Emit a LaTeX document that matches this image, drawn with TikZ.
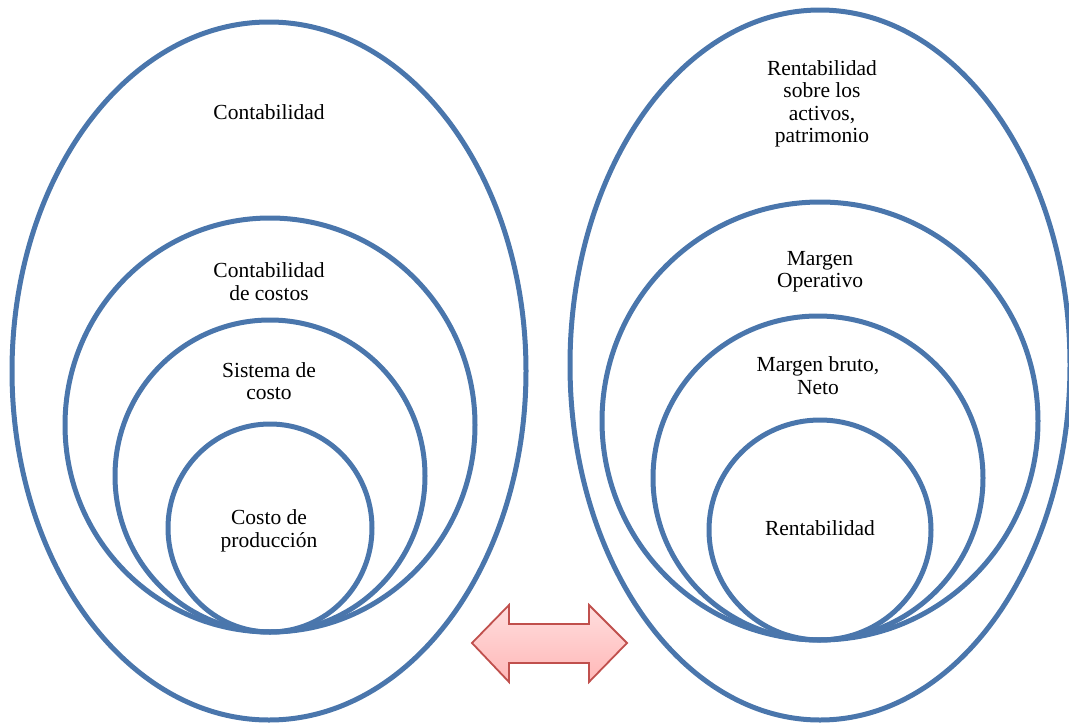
\documentclass[tikz,border=0pt]{standalone}
\usepackage{fontspec}
\setmainfont{Liberation Serif}
\usetikzlibrary{positioning}

\definecolor{ringblue}{RGB}{74,118,172}
\definecolor{arrowred}{RGB}{192,80,77}
\definecolor{pinktop}{RGB}{255,222,222}
\definecolor{pinkbot}{RGB}{255,183,183}

\tikzset{
  ring/.style={line width=5pt, color=ringblue},
  lbl/.style={align=center, font=\fontsize{21.5}{22.5}\selectfont, inner sep=0pt},
  dblarrow/.style={line width=1.8pt, draw=arrowred, top color=pinktop, bottom color=pinkbot, line join=miter}
}

\begin{document}
\begin{tikzpicture}[x=1pt,y=-1pt]
  \useasboundingbox (0,0) rectangle (1069,723);

  % left group
  \draw [ring] (269,371) ellipse [x radius=257pt, y radius=349pt];
  \draw [ring] (270,425) ellipse [x radius=205pt, y radius=207pt];
  \draw [ring] (270,476) ellipse [x radius=155pt, y radius=156pt];
  \draw [ring] (270,528) ellipse [x radius=102pt, y radius=104pt];

  % right group
  \draw [ring] (820,365) ellipse [x radius=250pt, y radius=355pt];
  \draw [ring] (820,421) ellipse [x radius=218pt, y radius=219pt];
  \draw [ring] (818,478) ellipse [x radius=165pt, y radius=162pt];
  \draw [ring] (820,530) ellipse [x radius=111pt, y radius=110pt];

  \node [lbl] (cont)     at (269,112)   {Contabilidad};
  \node [lbl] (contcost) at (269,281.5) {Contabilidad\\de costos};
  \node [lbl] (sist)     at (269,381)   {Sistema de\\costo};
  \node [lbl] (prod)     at (269,531)   {Costo de\\producción};

  \node [lbl] (rentact)  at (822,104)   {Rentabilidad\\sobre los\\activos,\\patrimonio};
  \node [lbl] (margop)   at (820,271.5) {Margen\\Operativo};
  \node [lbl] (margbr)   at (818,375.5) {Margen bruto,\\Neto};
  \node [lbl] (rent)     at (820,528)   {Rentabilidad};

  % double arrow between the groups
  \draw [dblarrow] (472,643) -- (509,605) -- (509,624) -- (589,624) -- (589,605)
    -- (627,643) -- (589,682) -- (589,663) -- (509,663) -- (509,682) -- cycle;

\end{tikzpicture}
\end{document}
